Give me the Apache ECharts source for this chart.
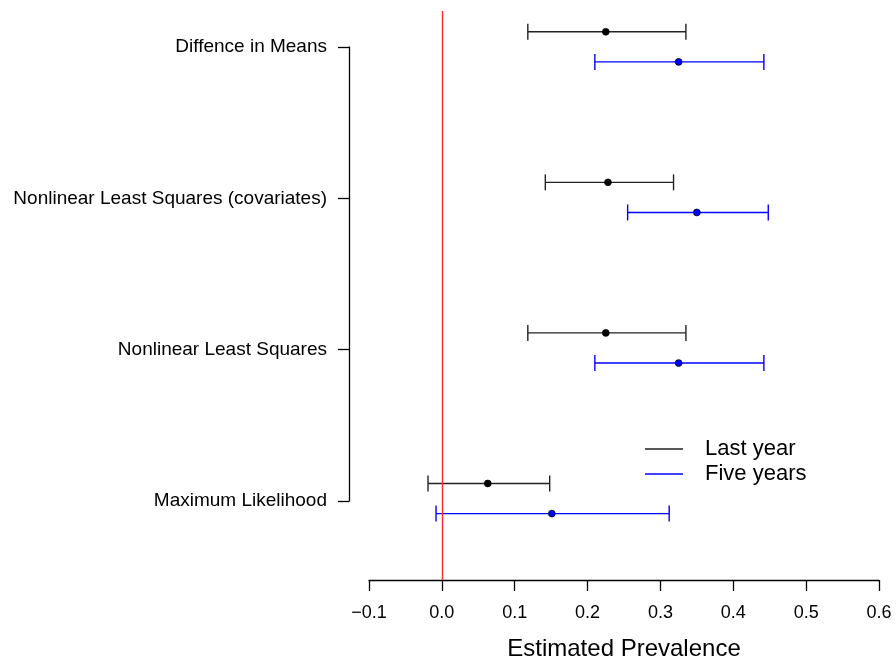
<!DOCTYPE html>
<html>
<head>
<meta charset="utf-8">
<script src="https://cdn.jsdelivr.net/npm/echarts@6/dist/echarts.min.js"></script>
<style>
  html, body { margin: 0; padding: 0; background: #fff; }
  #chart { width: 896px; height: 666px; }
</style>
</head>
<body>
<div id="chart"></div>
<script>
// Methods, listed bottom to top (y positions 1..4)
const methods = ['Maximum Likelihood', 'Nonlinear Least Squares', 'Nonlinear Least Squares (covariates)', 'Diffence in Means'];

// Estimates and interval bounds per method
const lastYearEst  = [0.063, 0.225, 0.228, 0.225];
const lastYearLow  = [-0.019, 0.118, 0.142, 0.118];
const lastYearHigh = [0.148, 0.335, 0.318, 0.335];

const fiveYearsEst  = [0.151, 0.325, 0.350, 0.325];
const fiveYearsLow  = [-0.008, 0.210, 0.255, 0.210];
const fiveYearsHigh = [0.312, 0.442, 0.448, 0.442];

const xTicks = [-0.1, 0.0, 0.1, 0.2, 0.3, 0.4, 0.5, 0.6];

const FONT = '"Liberation Sans", Arial, sans-serif';

function rows(est, low, high) {
  return est.map((e, i) => [i + 1, low[i], e, high[i]]);
}

function intervalRenderer(offset, lineColor, dotFill, dotStroke) {
  return function (params, api) {
    const y = api.value(0) + offset;
    const pL = api.coord([api.value(1), y]);
    const pM = api.coord([api.value(2), y]);
    const pH = api.coord([api.value(3), y]);
    const cap = 8;
    const st = { stroke: lineColor, lineWidth: 1.4 };
    return {
      type: 'group',
      children: [
        { type: 'line', shape: { x1: pL[0], y1: pL[1], x2: pH[0], y2: pH[1] }, style: st },
        { type: 'line', shape: { x1: pL[0], y1: pL[1] - cap, x2: pL[0], y2: pL[1] + cap }, style: st },
        { type: 'line', shape: { x1: pH[0], y1: pH[1] - cap, x2: pH[0], y2: pH[1] + cap }, style: st },
        { type: 'circle', shape: { cx: pM[0], cy: pM[1], r: 3.4 }, style: { fill: dotFill, stroke: dotStroke, lineWidth: 0.8 } }
      ]
    };
  };
}

const chart = echarts.init(document.getElementById('chart'), null, { renderer: 'canvas' });

chart.setOption({
  backgroundColor: '#ffffff',
  animation: false,
  grid: [
    { left: 369, top: 11, width: 510, height: 572, containLabel: false },
    { left: 349, top: 47, width: 1, height: 454, containLabel: false }
  ],
  xAxis: [
    {
      gridIndex: 0,
      type: 'value',
      min: xTicks[0],
      max: xTicks[xTicks.length - 1],
      interval: 0.1,
      splitLine: { show: false },
      axisLine: { show: true, lineStyle: { color: '#000', width: 1.3 } },
      axisTick: { show: true, inside: false, length: 11, lineStyle: { color: '#000', width: 1.3 } },
      axisLabel: {
        show: true, margin: 24, fontSize: 18, color: '#000', fontFamily: FONT,
        formatter: v => (v < -1e-9 ? '\u2212' : '') + Math.abs(v).toFixed(1)
      },
      name: 'Estimated Prevalence',
      nameLocation: 'middle',
      nameGap: 57,
      nameTextStyle: { fontSize: 24, color: '#000', fontFamily: FONT }
    },
    { gridIndex: 1, type: 'value', show: false }
  ],
  yAxis: [
    { gridIndex: 0, type: 'value', min: 0.459, max: 4.238, show: false },
    {
      gridIndex: 1,
      type: 'value',
      min: 1, max: 4, interval: 1,
      splitLine: { show: false },
      axisLine: { show: true, lineStyle: { color: '#000', width: 1.3 } },
      axisTick: { show: true, inside: false, length: 11, lineStyle: { color: '#000', width: 1.3 } },
      axisLabel: {
        show: true, margin: 22, fontSize: 19, color: '#000', fontFamily: FONT,
        formatter: v => methods[Math.round(v) - 1] || ''
      }
    }
  ],
  legend: {
    orient: 'vertical',
    left: 640,
    top: 433,
    itemWidth: 38,
    itemHeight: 1.5,
    itemGap: 3,
    icon: 'rect',
    selectedMode: false,
    textStyle: { fontSize: 22, color: '#000', fontFamily: FONT, lineHeight: 22, padding: [0, 0, 0, 17] },
    data: ['Last year', 'Five years']
  },
  series: [
    {
      name: 'Last year',
      type: 'custom',
      xAxisIndex: 0, yAxisIndex: 0,
      color: '#222222',
      clip: false,
      renderItem: intervalRenderer(0.1, '#222222', '#000000', '#000000'),
      encode: { x: [1, 2, 3], y: 0 },
      data: rows(lastYearEst, lastYearLow, lastYearHigh),
      markLine: {
        silent: true,
        symbol: ['none', 'none'],
        label: { show: false },
        lineStyle: { color: '#ff2a2a', width: 1.4, type: 'solid' },
        data: [{ xAxis: 0 }]
      }
    },
    {
      name: 'Five years',
      type: 'custom',
      xAxisIndex: 0, yAxisIndex: 0,
      color: '#0000ff',
      clip: false,
      renderItem: intervalRenderer(-0.1, '#0000ff', '#0000ff', '#000000'),
      encode: { x: [1, 2, 3], y: 0 },
      data: rows(fiveYearsEst, fiveYearsLow, fiveYearsHigh)
    }
  ]
});
</script>
</body>
</html>
